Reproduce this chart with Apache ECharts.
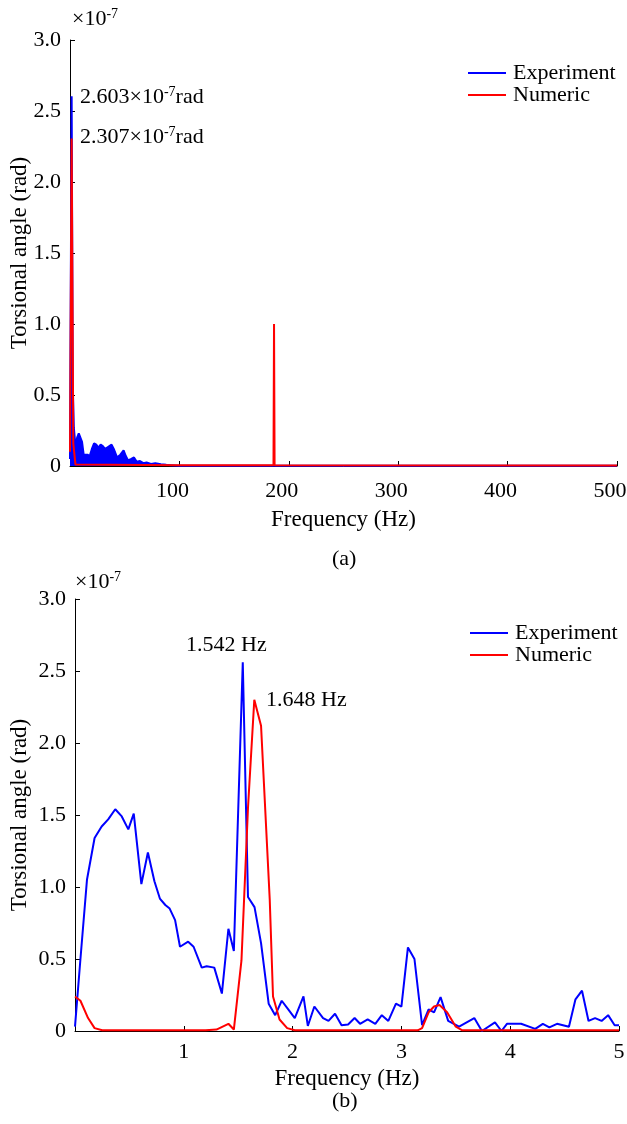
<!DOCTYPE html>
<html>
<head>
<meta charset="utf-8">
<script src="https://cdn.jsdelivr.net/npm/echarts@6/dist/echarts.min.js"></script>
<style>
  html, body { margin: 0; padding: 0; background: #fff; }
  #main { width: 627px; height: 1124px; }
</style>
</head>
<body>
<div id="main"></div>
<script>
// (a) 0-500 Hz spectrum, values in 1e-7 rad
var expTopFreq = [0, 1.5, 2.5, 3.5, 5, 6.5, 8, 9.5, 11, 12.5, 14, 16, 18, 20, 22, 24, 26, 28, 30, 32, 34, 36, 38, 40, 43, 46, 49, 51, 53, 56, 58.5, 61, 64, 67, 70, 74, 78, 83, 88, 92, 100, 500];
var expTopVal = [0.05, 2.603, 0.57, 0.27, 0.14, 0.2, 0.23, 0.22, 0.17, 0.08, 0.07, 0.08, 0.07, 0.12, 0.16, 0.15, 0.13, 0.15, 0.14, 0.12, 0.13, 0.14, 0.15, 0.12, 0.06, 0.08, 0.11, 0.07, 0.04, 0.05, 0.06, 0.03, 0.035, 0.02, 0.025, 0.015, 0.02, 0.012, 0.008, 0.006, 0.002, 0.001];
var numTopFreq = [0, 1.5, 3, 5, 100, 186, 186.5, 187, 500];
var numTopVal = [0.1, 2.307, 0.16, 0.01, 0.005, 0.005, 1.0, 0.005, 0.004];

// (b) 0-5 Hz zoom
var expBotFreq = [0, 0.05, 0.11, 0.18, 0.245, 0.305, 0.37, 0.43, 0.49, 0.54, 0.61, 0.67, 0.73, 0.78, 0.83, 0.87, 0.92, 0.965, 1.04, 1.09, 1.165, 1.21, 1.28, 1.35, 1.41, 1.46, 1.542, 1.59, 1.65, 1.71, 1.78, 1.84, 1.9, 1.96, 2.02, 2.1, 2.14, 2.2, 2.28, 2.33, 2.39, 2.45, 2.51, 2.57, 2.62, 2.69, 2.76, 2.82, 2.88, 2.95, 3.0, 3.06, 3.12, 3.19, 3.25, 3.3, 3.36, 3.43, 3.53, 3.67, 3.74, 3.86, 3.92, 3.97, 4.1, 4.23, 4.3, 4.36, 4.43, 4.54, 4.6, 4.66, 4.72, 4.78, 4.84, 4.9, 4.96, 5.0];
var expBotVal = [0.03, 0.5, 1.05, 1.34, 1.42, 1.47, 1.54, 1.49, 1.4, 1.51, 1.02, 1.24, 1.04, 0.92, 0.875, 0.85, 0.77, 0.585, 0.62, 0.585, 0.44, 0.45, 0.44, 0.26, 0.71, 0.555, 2.56, 0.93, 0.86, 0.61, 0.19, 0.11, 0.21, 0.15, 0.09, 0.24, 0.035, 0.17, 0.09, 0.07, 0.12, 0.04, 0.045, 0.09, 0.05, 0.08, 0.05, 0.11, 0.07, 0.19, 0.17, 0.58, 0.5, 0.04, 0.15, 0.13, 0.235, 0.07, 0.03, 0.09, 0.0, 0.06, 0.0, 0.05, 0.05, 0.015, 0.05, 0.025, 0.05, 0.03, 0.22, 0.28, 0.07, 0.09, 0.07, 0.11, 0.04, 0.04];
var numBotFreq = [0, 0.05, 0.12, 0.18, 0.25, 1.2, 1.3, 1.41, 1.46, 1.53, 1.59, 1.648, 1.71, 1.79, 1.82, 1.88, 1.95, 2.02, 3.15, 3.19, 3.25, 3.3, 3.35, 3.42, 3.5, 3.56, 5.0];
var numBotVal = [0.24, 0.21, 0.09, 0.02, 0.005, 0.005, 0.01, 0.05, 0.01, 0.49, 1.55, 2.3, 2.12, 0.91, 0.24, 0.08, 0.02, 0.005, 0.005, 0.02, 0.13, 0.17, 0.18, 0.13, 0.03, 0.005, 0.005];

var yTicks = [0, 0.5, 1.0, 1.5, 2.0, 2.5, 3.0];

function pairs(xs, ys) {
  var out = [];
  for (var i = 0; i < xs.length; i++) {
    out.push([xs[i], ys[i]]);
  }
  return out;
}

var FONT = '"Liberation Serif", "Times New Roman", serif';
var BLUE = '#0000ff';
var RED = '#ff0000';

var chart = echarts.init(document.getElementById('main'), null, { renderer: 'canvas' });

function xAxisOf(gridIndex, max, interval, nameGap, margin, labelPad) {
  return {
    gridIndex: gridIndex,
    type: 'value',
    min: 0,
    max: max,
    interval: interval,
    name: 'Frequency (Hz)',
    nameLocation: 'middle',
    nameGap: nameGap,
    nameMoveOverlap: false,
    nameTextStyle: { fontFamily: FONT, fontSize: 23, color: '#000' },
    axisLine: { show: true, lineStyle: { color: '#000', width: 1 } },
    axisTick: { show: true, inside: true, length: 5, lineStyle: { color: '#000' } },
    axisLabel: {
      showMinLabel: false, margin: margin, fontFamily: FONT, fontSize: 22, color: '#000',
      padding: labelPad
    },
    splitLine: { show: false }
  };
}

function yAxisOf(gridIndex, nameGap) {
  return {
    gridIndex: gridIndex,
    type: 'value',
    min: yTicks[0],
    max: yTicks[yTicks.length - 1],
    interval: 0.5,
    name: 'Torsional angle (rad)',
    nameLocation: 'middle',
    nameGap: nameGap,
    nameMoveOverlap: false,
    nameTextStyle: { fontFamily: FONT, fontSize: 23, color: '#000' },
    axisLine: { show: true, lineStyle: { color: '#000', width: 1 } },
    axisTick: { show: true, inside: true, length: 5, lineStyle: { color: '#000' } },
    axisLabel: {
      margin: 9, fontFamily: FONT, fontSize: 22, color: '#000',
      formatter: function (v) { return v === 0 ? '0' : v.toFixed(1); }
    },
    splitLine: { show: false }
  };
}

function legendOf(left, top) {
  return {
    data: ['Experiment', 'Numeric'],
    orient: 'vertical',
    left: left,
    top: top,
    icon: 'rect',
    itemWidth: 38,
    itemHeight: 2,
    itemGap: 0,
    padding: 0,
    selectedMode: false,
    textStyle: { fontFamily: FONT, fontSize: 22, color: '#000', lineHeight: 22, padding: [0, 0, 0, 2] }
  };
}

var rich = {
  n: { fontFamily: FONT, fontSize: 22, color: '#000', lineHeight: 24 },
  s: { fontFamily: FONT, fontSize: 14, color: '#000', verticalAlign: 'top', lineHeight: 24 }
};

function label(text, left, top) {
  return {
    text: text,
    left: left,
    top: top,
    padding: 0,
    textStyle: { rich: rich, fontFamily: FONT, fontSize: 22, color: '#000', fontWeight: 'normal' }
  };
}

var option = {
  backgroundColor: '#ffffff',
  animation: false,
  title: [
    label('{n|×10}{s|-7}', 72, 7),
    label('{n|2.603×10}{s|-7}{n|rad}', 80, 85),
    label('{n|2.307×10}{s|-7}{n|rad}', 80, 125),
    label('{n|(a)}', 332, 547),
    label('{n|×10}{s|-7}', 75, 570),
    label('{n|1.542 Hz}', 186, 633),
    label('{n|1.648 Hz}', 266, 688),
    label('{n|(b)}', 332, 1089)
  ],
  legend: [legendOf(468, 62), legendOf(470, 622)],
  grid: [
    { left: 70, top: 40, width: 547, height: 426, outerBoundsMode: 'none', containLabel: false },
    { left: 75, top: 599, width: 544, height: 432, outerBoundsMode: 'none', containLabel: false }
  ],
  xAxis: [
    xAxisOf(0, 500, 100, 42, 14, [0, 14, 0, 0]),
    xAxisOf(1, 5, 1, 36, 10, 0)
  ],
  yAxis: [yAxisOf(0, 39), yAxisOf(1, 44)],
  series: [
    {
      name: 'Experiment', type: 'line', xAxisIndex: 0, yAxisIndex: 0,
      data: pairs(expTopFreq, expTopVal), showSymbol: false, symbol: 'none',
      lineStyle: { color: BLUE, width: 2 }, itemStyle: { color: BLUE },
      areaStyle: { color: BLUE, opacity: 1 }
    },
    {
      name: 'Numeric', type: 'line', xAxisIndex: 0, yAxisIndex: 0,
      data: pairs(numTopFreq, numTopVal), showSymbol: false, symbol: 'none',
      lineStyle: { color: RED, width: 2 }, itemStyle: { color: RED }
    },
    {
      name: 'Experiment', type: 'line', xAxisIndex: 1, yAxisIndex: 1,
      data: pairs(expBotFreq, expBotVal), showSymbol: false, symbol: 'none',
      lineStyle: { color: BLUE, width: 2 }, itemStyle: { color: BLUE }
    },
    {
      name: 'Numeric', type: 'line', xAxisIndex: 1, yAxisIndex: 1,
      data: pairs(numBotFreq, numBotVal), showSymbol: false, symbol: 'none',
      lineStyle: { color: RED, width: 2 }, itemStyle: { color: RED }
    }
  ]
};

chart.setOption(option);
</script>
</body>
</html>
